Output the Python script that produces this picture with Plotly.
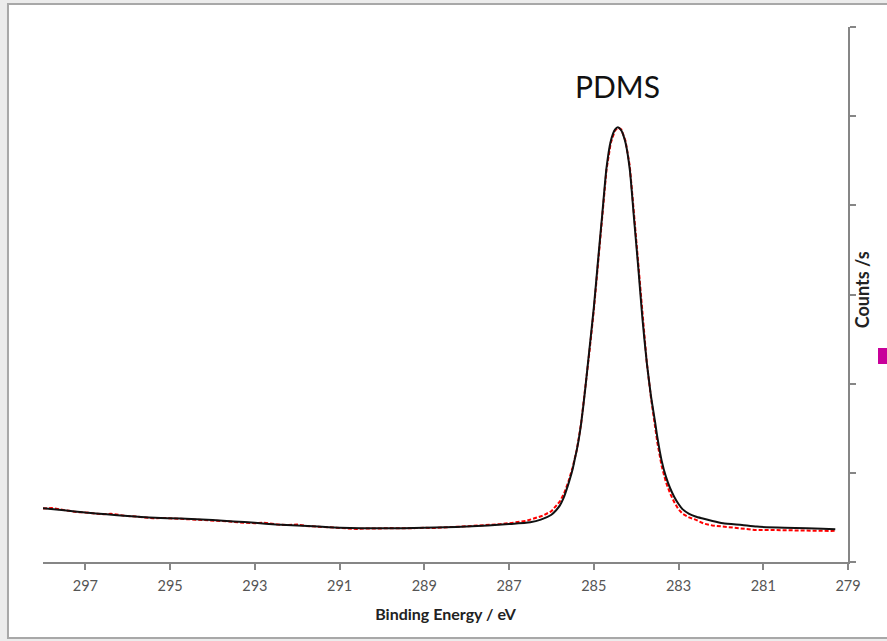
import plotly.graph_objects as go

# ---- data (binding energy in eV, counts in arbitrary axis units) ----
fit_energy = [298.0, 297.5, 297.0, 296.5, 296.0, 295.5, 295.0, 294.5, 294.0, 293.5, 293.0,
              292.5, 292.0, 291.5, 291.0, 290.5, 290.0, 289.5, 289.0, 288.5, 288.0, 287.5,
              287.0, 286.5, 286.25, 286.0, 285.9, 285.8, 285.72, 285.61, 285.5, 285.45,
              285.4, 285.35, 285.3, 285.25, 285.2, 285.1, 285.0, 284.9, 284.8, 284.7,
              284.6, 284.5, 284.43, 284.35, 284.25, 284.15, 284.05, 283.95, 283.85, 283.75,
              283.65, 283.55, 283.5, 283.4, 283.3, 283.2, 283.1, 283.0, 282.9, 282.75,
              282.6, 282.45, 282.2, 281.95, 281.5, 281.15, 280.5, 279.97, 279.6, 279.3]
fit_counts = [0.603, 0.58, 0.554, 0.535, 0.515, 0.498, 0.49, 0.483, 0.472, 0.455, 0.44,
              0.42, 0.408, 0.397, 0.385, 0.379, 0.379, 0.379, 0.383, 0.39, 0.397, 0.41,
              0.425, 0.445, 0.475, 0.53, 0.575, 0.635, 0.71, 0.86, 1.04, 1.15,
              1.26, 1.39, 1.55, 1.74, 1.95, 2.40, 2.85, 3.38, 3.90, 4.42,
              4.72, 4.85, 4.876, 4.84, 4.70, 4.40, 3.85, 3.30, 2.72, 2.24,
              1.86, 1.56, 1.40, 1.14, 0.96, 0.83, 0.73, 0.65, 0.59, 0.54,
              0.51, 0.49, 0.46, 0.435, 0.415, 0.397, 0.385, 0.379, 0.372, 0.367]

data_energy = [298.0, 297.8, 297.6, 297.4, 297.2, 297.0, 296.8, 296.6, 296.4, 296.2, 296.0,
               295.8, 295.6, 295.4, 295.2, 295.0, 294.8, 294.6, 294.4, 294.2, 294.0, 293.8,
               293.6, 293.4, 293.2, 293.0, 292.8, 292.6, 292.4, 292.2, 292.0, 291.8, 291.6,
               291.4, 291.2, 291.0, 290.8, 290.6, 290.4, 290.2, 290.0, 289.8, 289.6, 289.4,
               289.2, 289.0, 288.8, 288.6, 288.4, 288.2, 288.0, 287.8, 287.6, 287.4, 287.2,
               287.0, 286.8, 286.6, 286.4, 286.2, 286.0, 285.9, 285.8, 285.7, 285.6, 285.5,
               285.4, 285.3, 285.2, 285.1, 285.0, 284.9, 284.8, 284.7, 284.6, 284.5, 284.42,
               284.35, 284.25, 284.15, 284.05, 283.95, 283.85, 283.75, 283.65, 283.55, 283.5,
               283.4, 283.3, 283.2, 283.1, 283.0, 282.9, 282.75, 282.6, 282.4, 282.2, 282.0,
               281.8, 281.6, 281.4, 281.2, 281.0, 280.8, 280.6, 280.4, 280.2, 280.0, 279.8,
               279.6, 279.4, 279.3]
data_counts = [0.60, 0.605, 0.59, 0.575, 0.56, 0.555, 0.545, 0.535, 0.54, 0.525, 0.515,
               0.51, 0.50, 0.49, 0.495, 0.49, 0.485, 0.478, 0.48, 0.47, 0.465, 0.46,
               0.455, 0.445, 0.44, 0.435, 0.44, 0.425, 0.418, 0.415, 0.42, 0.405, 0.40,
               0.395, 0.39, 0.383, 0.375, 0.37, 0.375, 0.38, 0.377, 0.38, 0.375, 0.378,
               0.38, 0.385, 0.38, 0.39, 0.392, 0.395, 0.40, 0.405, 0.415, 0.42, 0.425,
               0.435, 0.445, 0.46, 0.49, 0.52, 0.57, 0.62, 0.68, 0.77, 0.90, 1.06,
               1.26, 1.55, 1.93, 2.37, 2.82, 3.33, 3.86, 4.40, 4.70, 4.84, 4.87,
               4.85, 4.72, 4.44, 3.90, 3.33, 2.74, 2.24, 1.84, 1.52, 1.34,
               1.08, 0.90, 0.77, 0.67, 0.59, 0.54, 0.50, 0.475, 0.43, 0.41, 0.40,
               0.39, 0.38, 0.37, 0.36, 0.36, 0.358, 0.355, 0.352, 0.355, 0.35, 0.348,
               0.35, 0.348, 0.352]

x_ticks = [297, 295, 293, 291, 289, 287, 285, 283, 281, 279]
peak_label = "PDMS"
peak_label_pos = (284.43, 5.34)

FONT = "Lato, 'Open Sans', sans-serif"
AXIS_GRAY = "#868686"

fig = go.Figure()
fig.add_trace(go.Scatter(x=data_energy, y=data_counts, mode="lines",
                         line=dict(color="#ff0000", width=2, dash="4px,2px"),
                         showlegend=False))
fig.add_trace(go.Scatter(x=fit_energy, y=fit_counts, mode="lines",
                         line=dict(color="#111111", width=2, shape="spline", smoothing=0.6),
                         showlegend=False))

fig.update_layout(
    width=887, height=641,
    margin=dict(l=43, r=39, t=27, b=79, autoexpand=False),
    paper_bgcolor="#ececec",
    plot_bgcolor="white",
    font=dict(family=FONT, color="#595959", size=14),
    xaxis=dict(
        range=[298, 279], tickvals=x_ticks, ticktext=[str(v) for v in x_ticks],
        showgrid=False, zeroline=False, showline=True, linecolor=AXIS_GRAY, linewidth=1.5,
        ticks="outside", ticklen=6, tickcolor=AXIS_GRAY, tickwidth=1.5,
        ticklabelstandoff=4,
        tickfont=dict(family=FONT, size=14.5, color="#555555"),
        title=dict(text="<b>Binding Energy / eV</b>", standoff=16,
                   font=dict(family=FONT, size=16, color="#222222")),
    ),
    yaxis=dict(
        range=[0, 6], dtick=1, side="right", showticklabels=False,
        showgrid=False, zeroline=False, showline=True, linecolor=AXIS_GRAY, linewidth=1.5,
        ticks="outside", ticklen=6, tickcolor=AXIS_GRAY, tickwidth=1.5,
    ),
    shapes=[
        dict(type="rect", xref="paper", yref="paper", x0=-0.0435, x1=1.07, y0=-0.142, y1=1.043,
             fillcolor="white", line=dict(color="#a8a8a8", width=2), layer="below"),
        dict(type="rect", xref="paper", yref="paper", x0=1.0373, x1=1.06, y0=0.3701, y1=0.40,
             fillcolor="#c8009a", line=dict(width=0), layer="above"),
    ],
    annotations=[
        dict(text=peak_label, x=peak_label_pos[0], y=peak_label_pos[1], xref="x", yref="y",
             showarrow=False, font=dict(family=FONT, size=30, color="#111111")),
        dict(text="<b>Counts /s</b>", x=1.0174, y=0.508, xref="paper", yref="paper",
             showarrow=False, textangle=-90, xanchor="center", yanchor="middle",
             font=dict(family=FONT, size=18, color="#222222")),
    ],
)

fig.write_html("out.html", config={"displayModeBar": False},
               post_script="document.body.style.margin='0';document.body.style.overflow='hidden';")
